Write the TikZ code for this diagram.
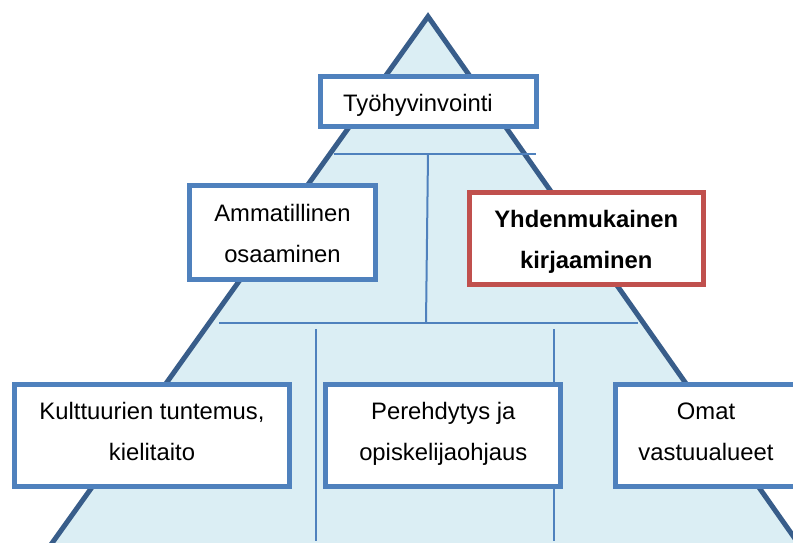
\documentclass[tikz,border=0pt]{standalone}
\usepackage{fontspec}
\setmainfont{Liberation Sans}
\usetikzlibrary{calc}
\definecolor{boxblue}{HTML}{4F81BD}
\definecolor{tridark}{HTML}{385D8A}
\definecolor{trifill}{HTML}{DBEEF4}
\definecolor{boxred}{HTML}{C0504D}
\newcommand{\lnstrut}{\rule[-20.5bp]{0pt}{41bp}}
\begin{document}
\begin{tikzpicture}[x=1bp,y=-1bp,
  tri/.style={draw=tridark,fill=trifill,line width=5bp,line join=miter},
  thin/.style={draw=boxblue,line width=2bp},
  box/.style={draw=boxblue,line width=5bp,fill=white,inner sep=0pt,rectangle},
  redbox/.style={box,draw=boxred},
  txt/.style={font=\fontsize{23.9}{41.2}\selectfont,align=center,inner sep=0pt,text=black}]
\useasboundingbox (0,0) rectangle (793,543);
\clip (0,0) rectangle (793,543);
% pyramid
\draw[tri] (428,16.5) -- (40,560) -- (810,560) -- cycle;
% connector lines
\coordinate (h1l) at (334,154);
\coordinate (h1r) at (536,154);
\coordinate (h1m) at (428,154);
\coordinate (h2m) at (426,323);
\coordinate (h2l) at (219,323);
\coordinate (h2r) at (638,323);
\coordinate (v2t) at (316,329);
\coordinate (v2b) at (316,541);
\coordinate (v3t) at (554,329);
\coordinate (v3b) at (554,541);
\draw[thin] (h1l) -- (h1r);
\draw[thin] (h1m) -- (h2m);
\draw[thin] (h2l) -- (h2r);
\draw[thin] (v2t) -- (v2b);
\draw[thin] (v3t) -- (v3b);
% boxes
\node[box,minimum width=216bp,minimum height=50bp] (tyo) at (428.5,101.5) {};
\node[box,minimum width=186bp,minimum height=94bp] (amm) at (282.5,232.8) {};
\node[redbox,minimum width=234bp,minimum height=91.7bp] (yhd) at (586.3,238.3) {};
\node[box,minimum width=275bp,minimum height=102.6bp] (kul) at (152,435.5) {};
\node[box,minimum width=235bp,minimum height=102.6bp] (per) at (443.3,435.5) {};
\node[box,minimum width=181bp,minimum height=102.6bp] (oma) at (706,435.5) {};
% texts
\node[txt] (tyot) at ($(tyo.center)+(-10.5,10.2)$) {\lnstrut Työhyvinvointi};
\node[txt] (ammt) at ($(amm.center)+(0,9.4)$) {\lnstrut Ammatillinen\\\lnstrut osaaminen};
\node[txt,font=\fontsize{23.9}{41.2}\selectfont\bfseries] (yhdt) at ($(yhd.center)+(0,9.4)$) {\lnstrut Yhdenmukainen\\\lnstrut kirjaaminen};
\node[txt] (kult) at ($(kul.center)+(0,4.2)$) {\lnstrut Kulttuurien tuntemus,\\\lnstrut kielitaito};
\node[txt] (pert) at ($(per.center)+(0,4.2)$) {\lnstrut Perehdytys ja\\\lnstrut opiskelijaohjaus};
\node[txt] (omat) at ($(oma.center)+(0,4.2)$) {\lnstrut Omat\\\lnstrut vastuualueet};
\end{tikzpicture}
\end{document}
